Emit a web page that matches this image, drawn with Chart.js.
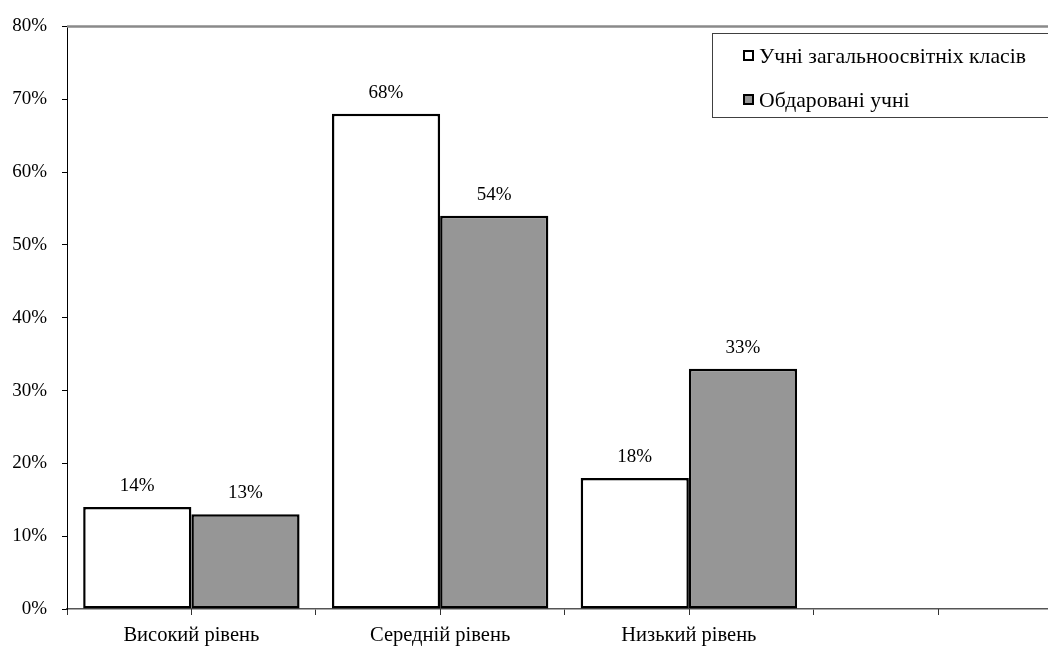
<!DOCTYPE html>
<html>
<head>
<meta charset="utf-8">
<script src="https://cdn.jsdelivr.net/npm/chart.js@4"></script>
<style>
  html, body { margin: 0; padding: 0; background: #fff; overflow: hidden; }
  #wrap { width: 1062px; height: 646px; }
</style>
</head>
<body>
<div id="wrap"><canvas id="chart" width="1062" height="646"></canvas></div>
<script>
// Categories (the fourth slot is left empty on purpose)
const categories = ['Високий рівень', 'Середній рівень', 'Низький рівень', ''];

// Series values, percent
const generalStudents = [14, 68, 18, null];
const giftedStudents = [13, 54, 33, null];

const seriesNames = ['Учні загальноосвітніх класів', 'Обдаровані учні'];

// Y axis ticks, percent
const yTicks = [0, 10, 20, 30, 40, 50, 60, 70, 80];

const SERIF = '"Liberation Serif", "Times New Roman", serif';
const FONT_SIZE = 19;
const CAT_FONT_SIZE = 20.5;
const LEGEND_FONT_SIZE = 21.7;

const decorations = {
  id: 'decorations',
  beforeDatasetsDraw(chart) {
    const { ctx, chartArea } = chart;
    ctx.save();
    ctx.strokeStyle = '#8a8a8a';
    ctx.lineWidth = 2.5;
    ctx.beginPath();
    ctx.moveTo(chartArea.left, chartArea.top);
    ctx.lineTo(chartArea.right, chartArea.top);
    ctx.stroke();
    ctx.restore();
  },
  afterDatasetsDraw(chart) {
    const { ctx } = chart;
    ctx.save();
    ctx.fillStyle = '#000';
    ctx.font = FONT_SIZE + 'px ' + SERIF;
    ctx.textAlign = 'center';
    ctx.textBaseline = 'middle';
    chart.data.datasets.forEach((ds, di) => {
      const meta = chart.getDatasetMeta(di);
      meta.data.forEach((bar, i) => {
        const v = ds.data[i];
        if (v === null || v === undefined) return;
        ctx.fillText(v + '%', bar.x, bar.y - 21);
      });
    });
    ctx.restore();
  },
  afterDraw(chart) {
    const { ctx } = chart;
    const xs = chart.scales.x;
    // tick marks at the centre of each category
    ctx.save();
    ctx.strokeStyle = '#333';
    ctx.lineWidth = 1;
    for (let i = 0; i < chart.data.labels.length; i++) {
      const x = Math.round(xs.getPixelForValue(i)) + 0.5;
      ctx.beginPath();
      ctx.moveTo(x, xs.top);
      ctx.lineTo(x, xs.top + 6);
      ctx.stroke();
    }
    ctx.restore();

    // legend box
    const lx = 712.5, ly = 33.5, lw = 420, lh = 84;
    ctx.save();
    ctx.fillStyle = '#fff';
    ctx.fillRect(lx, ly, lw, lh);
    ctx.strokeStyle = '#404040';
    ctx.lineWidth = 1;
    ctx.strokeRect(lx, ly, lw, lh);
    ctx.font = LEGEND_FONT_SIZE + 'px ' + SERIF;
    ctx.textBaseline = 'middle';
    ctx.textAlign = 'left';
    const rows = [56, 100];
    chart.data.datasets.forEach((ds, di) => {
      const cy = rows[di];
      ctx.fillStyle = ds.backgroundColor;
      ctx.fillRect(744, cy - 5, 9, 9);
      ctx.strokeStyle = '#000';
      ctx.lineWidth = 2;
      ctx.strokeRect(744, cy - 5, 9, 9);
      ctx.fillStyle = '#000';
      ctx.fillText(ds.label, 759, cy + 1);
    });
    ctx.restore();
  }
};

new Chart(document.getElementById('chart'), {
  type: 'bar',
  data: {
    labels: categories,
    datasets: [
      {
        label: seriesNames[0],
        data: generalStudents,
        backgroundColor: '#ffffff',
        borderColor: '#000000',
        borderWidth: 2.5,
        borderSkipped: false
      },
      {
        label: seriesNames[1],
        data: giftedStudents,
        backgroundColor: '#969696',
        borderColor: '#000000',
        borderWidth: 2.5,
        borderSkipped: false
      }
    ]
  },
  options: {
    responsive: false,
    animation: false,
    devicePixelRatio: 1,
    layout: { padding: { top: 24, right: 0, left: 0, bottom: 0 } },
    datasets: {
      bar: { categoryPercentage: 0.87, barPercentage: 1.0 }
    },
    plugins: {
      legend: { display: false },
      tooltip: { enabled: false }
    },
    scales: {
      x: {
        offset: true,
        grid: {
          offset: true,
          drawOnChartArea: false,
          drawTicks: true,
          tickLength: 6,
          color: '#333'
        },
        border: { display: true, color: '#555', width: 1.5 },
        ticks: {
          color: '#000',
          font: { family: SERIF, size: CAT_FONT_SIZE },
          padding: 8,
          maxRotation: 0,
          autoSkip: false
        },
        afterFit(scale) { scale.height = 37; }
      },
      y: {
        min: 0,
        max: 80,
        afterBuildTicks(scale) {
          scale.ticks = yTicks.map(v => ({ value: v }));
        },
        grid: {
          drawOnChartArea: false,
          drawTicks: true,
          tickLength: 5,
          color: '#000'
        },
        border: { display: true, color: '#000', width: 1 },
        ticks: {
          color: '#000',
          font: { family: SERIF, size: FONT_SIZE },
          padding: 15,
          callback: v => v + '%'
        },
        afterFit(scale) { scale.width = 67; }
      }
    }
  },
  plugins: [decorations]
});
</script>
</body>
</html>
